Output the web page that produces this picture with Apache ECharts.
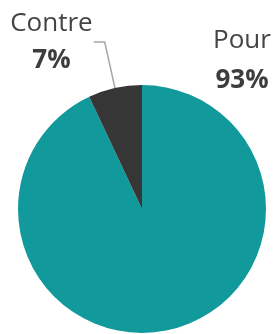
<!DOCTYPE html>
<html>
<head>
<meta charset="utf-8">
<script src="https://cdn.jsdelivr.net/npm/echarts@6/dist/echarts.min.js"></script>
<style>
  html, body { margin: 0; padding: 0; background: #fff; }
  #chart { width: 273px; height: 334px; }
</style>
</head>
<body>
<div id="chart"></div>
<script>
// données du sondage
var categories = ['Pour', 'Contre']
var values = [93, 7]
var colors = ['#12999b', '#363636']

var chart = echarts.init(document.getElementById('chart'))

var pieData = categories.map(function (name, i) {
  return {
    name: name,
    value: values[i],
    itemStyle: { color: colors[i] },
    labelLine: { show: i === 1 },
    label: i === 0 ? {
      rich: {
        a: { lineHeight: 40 },
        b: { lineHeight: 40 }
      }
    } : {}
  }
})

chart.setOption({
  animation: false,
  series: [
    {
      type: 'pie',
      center: [142, 209],
      radius: 124,
      startAngle: 90,
      clockwise: true,
      data: pieData,
      itemStyle: { borderWidth: 0 },
      label: {
        show: true,
        position: 'outside',
        distanceToLabelLine: 1,
        formatter: function (p) {
          return '{a|' + p.name + '}\n{b|' + p.value + '%}'
        },
        rich: {
          a: { fontFamily: 'Open Sans', fontSize: 26, color: '#444', lineHeight: 37, align: 'center' },
          b: { fontFamily: 'Open Sans', fontSize: 26, fontWeight: 'bold', color: '#3d3d3d', lineHeight: 37, align: 'center' }
        }
      },
      labelLine: {
        length: 47,
        length2: 11,
        lineStyle: { color: '#a6a6a6', width: 1.5 }
      },
      labelLayout: function (params) {
        if (params.dataIndex === 0) {
          return { x: 242, y: 61, align: 'center', verticalAlign: 'middle' }
        }
        return {}
      }
    }
  ]
})
</script>
</body>
</html>
